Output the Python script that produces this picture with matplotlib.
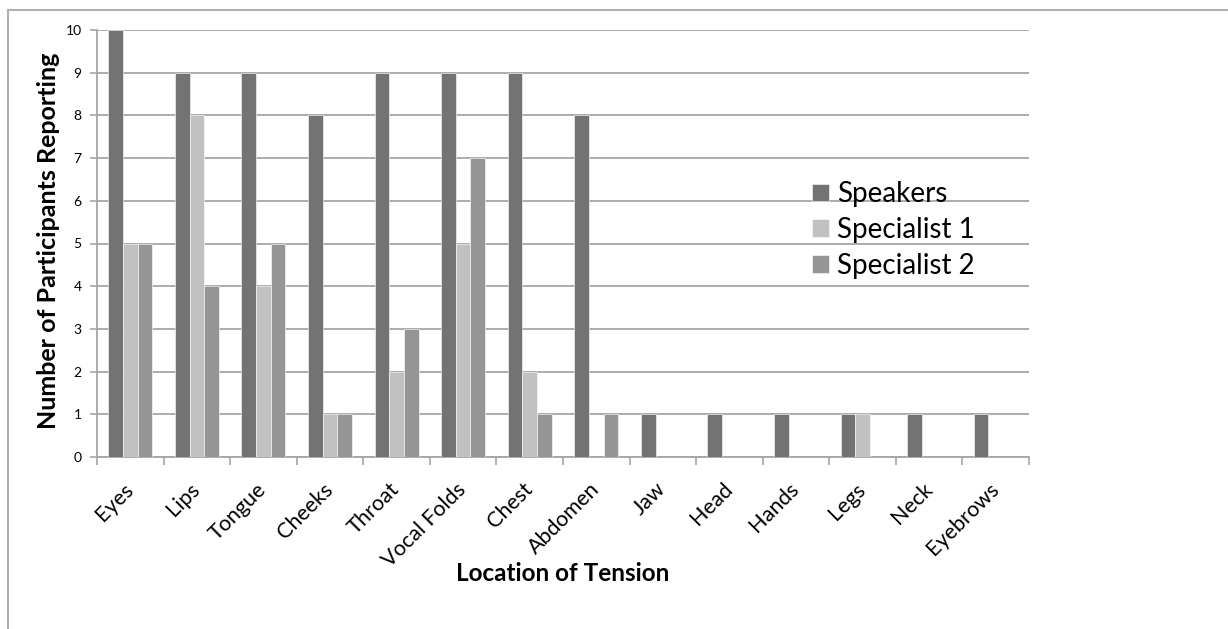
import numpy as np
import matplotlib.pyplot as plt
from matplotlib.lines import Line2D
import matplotlib.transforms as mtransforms

plt.rcParams['font.family'] = ['Lato', 'DejaVu Sans']

# Datos
locations = ["Eyes", "Lips", "Tongue", "Cheeks", "Throat", "Vocal Folds", "Chest",
             "Abdomen", "Jaw", "Head", "Hands", "Legs", "Neck", "Eyebrows"]
speakers = [10, 9, 9, 8, 9, 9, 9, 8, 1, 1, 1, 1, 1, 1]
specialist1 = [5, 8, 4, 1, 2, 5, 2, 0, 0, 0, 0, 1, 0, 0]
specialist2 = [5, 4, 5, 1, 3, 7, 1, 1, 0, 0, 0, 0, 0, 0]

series = [("Speakers", speakers, "#737373"),
          ("Specialist 1", specialist1, "#c1c1c1"),
          ("Specialist 2", specialist2, "#959595")]

fig = plt.figure(figsize=(12.28, 6.29), dpi=100)
ax = fig.add_axes([97 / 1228, 1 - 457 / 629, (1029 - 97) / 1228, (457 - 30) / 629])

x = np.arange(len(locations)) + 0.5
w = 0.22
for i, (name, vals, col) in enumerate(series):
    ax.bar(x + (i - 1) * w, vals, width=w, color=col, label=name,
           edgecolor="white", linewidth=0.4, zorder=3)

ax.set_xlim(0, len(locations))
ax.set_ylim(0, 10)
ax.set_yticks(range(0, 11))
ax.grid(axis="y", color="#a6a6a6", linewidth=1.3, zorder=0)
ax.tick_params(axis="y", labelsize=10, length=5, color="#a6a6a6", width=1.2, pad=6)

ax.set_xticks(x)
ax.set_xticklabels(locations, rotation=45, ha="right", va="center",
                   rotation_mode="anchor", fontsize=15.5)
ax.tick_params(axis="x", which="major", length=0, pad=21)
ax.set_xticks(np.arange(0, len(locations) + 1), minor=True)
ax.tick_params(axis="x", which="minor", length=6, color="#a6a6a6", width=1.2)

for s in ["top", "right"]:
    ax.spines[s].set_visible(False)
for s in ["left", "bottom"]:
    ax.spines[s].set_color("#a6a6a6")
    ax.spines[s].set_linewidth(1.3)

ax.set_ylabel("Number of Participants Reporting", fontsize=18, fontweight="bold")
ax.yaxis.set_label_coords(60 / 1228, 1 - 241 / 629, transform=fig.transFigure)
ax.set_xlabel("Location of Tension", fontsize=17.5, fontweight="bold")
ax.xaxis.set_label_coords(563 / 1228, 1 - 562 / 629, transform=fig.transFigure)

leg = ax.legend(loc="center left", bbox_to_anchor=(787 / 1228, 1 - 230 / 629),
                bbox_transform=fig.transFigure, frameon=False, fontsize=20,
                handlelength=0.6, handleheight=0.6, handletextpad=0.3, labelspacing=0.35)

# marco exterior (solo arriba e izquierda)
fig.add_artist(Line2D([8 / 1228, 1], [1 - 10 / 629, 1 - 10 / 629], color="#b0b0b0", lw=1.5))
fig.add_artist(Line2D([8 / 1228, 8 / 1228], [0, 1 - 10 / 629], color="#b0b0b0", lw=1.5))

fig.savefig("out.png", dpi=100)
